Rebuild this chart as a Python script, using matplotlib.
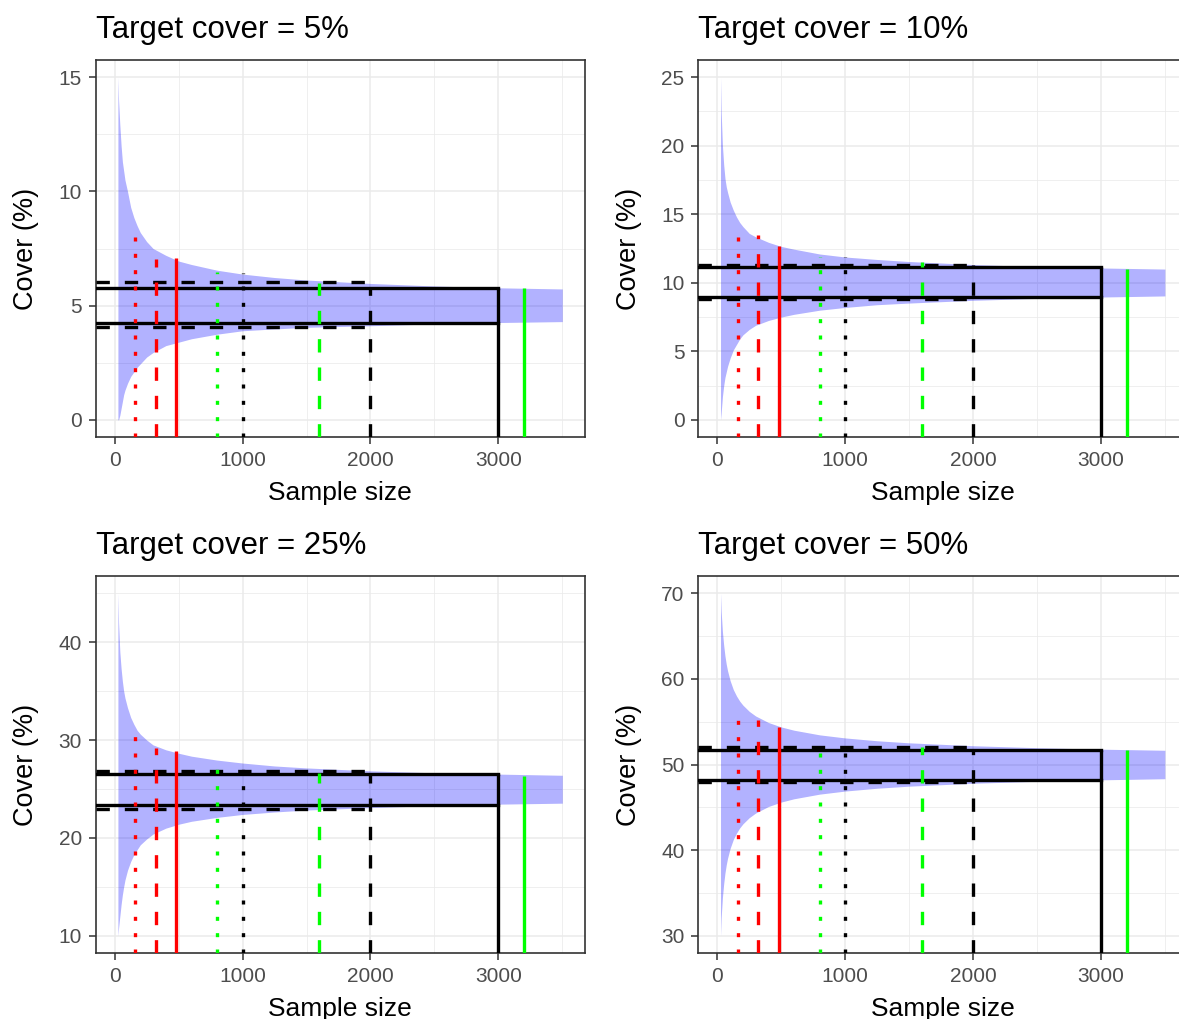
import matplotlib
matplotlib.use("Agg")
import matplotlib.pyplot as plt
from matplotlib.ticker import MultipleLocator

plt.rcParams['font.family'] = ['Liberation Sans', 'DejaVu Sans']

# sample sizes where the simulated 95% envelope was evaluated
sample_n = [25, 30, 40, 50, 60, 70, 80, 100, 125, 150, 175, 200, 250, 300,
            400, 500, 600, 800, 1000, 1250, 1500, 2000, 2500, 3000, 3500]

# envelope of estimated cover (%) for each target cover
upper_5 = [15.0, 14.0, 12.9, 12.0, 11.3, 10.9, 10.5, 10.0, 9.3, 8.85, 8.5, 8.2, 7.8, 7.5,
           7.2, 6.95, 6.8, 6.55, 6.38, 6.23, 6.12, 5.97, 5.86, 5.78, 5.73]
lower_5 = [0.0, 0.0, 0.2, 0.5, 0.8, 1.1, 1.3, 1.6, 1.9, 2.1, 2.3, 2.45, 2.75, 2.95,
           3.25, 3.4, 3.55, 3.75, 3.9, 3.98, 4.05, 4.12, 4.2, 4.26, 4.3]
upper_10 = [25.0, 22.5, 20.0, 18.6, 17.6, 17.0, 16.6, 15.9, 15.3, 14.8, 14.4, 14.1, 13.6, 13.35,
            12.95, 12.65, 12.45, 12.1, 11.88, 11.7, 11.55, 11.33, 11.18, 11.08, 11.0]
lower_10 = [0.0, 0.5, 1.7, 2.5, 3.1, 3.5, 3.9, 4.5, 5.1, 5.5, 5.9, 6.2, 6.6, 6.9,
            7.25, 7.5, 7.7, 8.0, 8.2, 8.4, 8.52, 8.72, 8.86, 8.96, 9.04]
upper_25 = [45.0, 42.0, 39.0, 37.3, 36.0, 35.0, 34.3, 33.3, 32.3, 31.6, 31.0, 30.6, 30.0, 29.5,
            29.0, 28.65, 28.35, 27.95, 27.65, 27.35, 27.15, 26.85, 26.65, 26.52, 26.4]
lower_25 = [10.0, 10.8, 12.0, 13.2, 14.2, 15.0, 15.7, 16.7, 17.6, 18.3, 18.8, 19.3, 19.9, 20.4,
            21.0, 21.4, 21.7, 22.1, 22.4, 22.65, 22.85, 23.1, 23.3, 23.45, 23.55]
upper_50 = [70.0, 67.9, 65.5, 63.9, 62.65, 61.7, 60.95, 59.8, 58.75, 58.0, 57.4, 56.93, 56.2, 55.66,
            54.9, 54.38, 54.0, 53.46, 53.1, 52.77, 52.53, 52.19, 51.96, 51.79, 51.66]
lower_50 = [30.0, 32.1, 34.5, 36.1, 37.35, 38.3, 39.05, 40.2, 41.25, 42.0, 42.6, 43.07, 43.8, 44.34,
            45.1, 45.62, 46.0, 46.54, 46.9, 47.23, 47.47, 47.81, 48.04, 48.21, 48.34]

# candidate sample sizes drawn as vertical markers
mark_n = [160, 320, 480, 800, 1000, 1600, 2000, 3000, 3200]
mark_color = ['#FF0000', '#FF0000', '#FF0000', '#00FF00', 'black', '#00FF00', 'black', 'black', '#00FF00']
mark_style = ['dotted', 'dashed', 'solid', 'dotted', 'dotted', 'dashed', 'dashed', 'solid', 'solid']
mark_top_5 = [8.49, 7.04, 7.07, 6.45, 6.42, 6.0, 5.8, 5.78, 5.78]
mark_top_10 = [14.2, 13.48, 12.7, 11.86, 11.86, 11.5, 11.3, 11.14, 11.0]
mark_top_25 = [31.35, 29.2, 28.84, 27.9, 27.5, 26.6, 26.54, 26.54, 26.37]
mark_top_50 = [56.3, 55.15, 54.37, 52.6, 52.6, 52.05, 51.74, 51.74, 51.7]

# interval bounds at n = 2000 (dashed) and n = 3000 (solid)
band_n = [2000, 3000]
band_style = ['dashed', 'solid']
band_5 = [(6.02, 4.08), (5.78, 4.26)]
band_10 = [(11.3, 8.84), (11.14, 8.96)]
band_25 = [(26.8, 22.98), (26.54, 23.39)]
band_50 = [(52.05, 47.9), (51.74, 48.17)]

targets = ['5%', '10%', '25%', '50%']
uppers = [upper_5, upper_10, upper_25, upper_50]
lowers = [lower_5, lower_10, lower_25, lower_50]
mark_tops = [mark_top_5, mark_top_10, mark_top_25, mark_top_50]
bands = [band_5, band_10, band_25, band_50]
y_steps = [5, 5, 10, 10]

W, H = 1179, 1019
fig = plt.figure(figsize=(W / 100, H / 100), dpi=100)

LW = 2.4
dash = {'solid': '-', 'dashed': (0, (4.0, 4.5)), 'dotted': (0, (1.2, 3.7))}

# panel boxes in pixels: left, top
boxes = [(95.7, 60), (698.3, 60), (95.7, 576), (698.3, 576)]
pw, ph = 488.8, 377

for i in range(4):
    left, top = boxes[i]
    ax = fig.add_axes([left / W, 1 - (top + ph) / H, pw / W, ph / H])
    up, lo = uppers[i], lowers[i]

    xpad = 0.05 * (sample_n[-1] - sample_n[0])
    x0, x1 = sample_n[0] - xpad, sample_n[-1] + xpad
    ypad = 0.05 * (max(up) - min(lo))
    y0, y1 = min(lo) - ypad, max(up) + ypad

    ax.fill_between(sample_n, lo, up, color='blue', alpha=0.3, linewidth=0, zorder=2)

    for n, (hi, low), st in zip(band_n, bands[i], band_style):
        for yv in (hi, low):
            ax.plot([x0, n], [yv, yv], color='black', lw=LW, ls=dash[st],
                    dash_capstyle='butt', zorder=3)

    for n, c, st, t in zip(mark_n, mark_color, mark_style, mark_tops[i]):
        ax.plot([n, n], [y0, t], color=c, lw=LW, ls=dash[st],
                dash_capstyle='butt', solid_capstyle='butt', zorder=4)

    ax.set_xlim(x0, x1)
    ax.set_ylim(y0, y1)
    ax.xaxis.set_major_locator(MultipleLocator(1000))
    ax.xaxis.set_minor_locator(MultipleLocator(500))
    ax.yaxis.set_major_locator(MultipleLocator(y_steps[i]))
    ax.yaxis.set_minor_locator(MultipleLocator(y_steps[i] / 2))
    ax.grid(which='major', color='#EBEBEB', lw=1.1, zorder=0)
    ax.grid(which='minor', color='#EBEBEB', lw=0.55, zorder=0)
    ax.set_axisbelow(True)
    ax.tick_params(which='major', length=5, width=1.1, color='#333333',
                   labelsize=15, labelcolor='#4D4D4D', pad=5)
    ax.tick_params(which='minor', length=0)
    for s in ax.spines.values():
        s.set_color('#333333')
        s.set_linewidth(1.2)
    ax.set_xlabel('Sample size', fontsize=19, labelpad=8)
    ax.set_ylabel('Cover (%)', fontsize=19.5, labelpad=14)
    ax.set_title('Target cover = ' + targets[i], loc='left', fontsize=22.5, pad=15.5)

fig.savefig('out.png', dpi=100)
